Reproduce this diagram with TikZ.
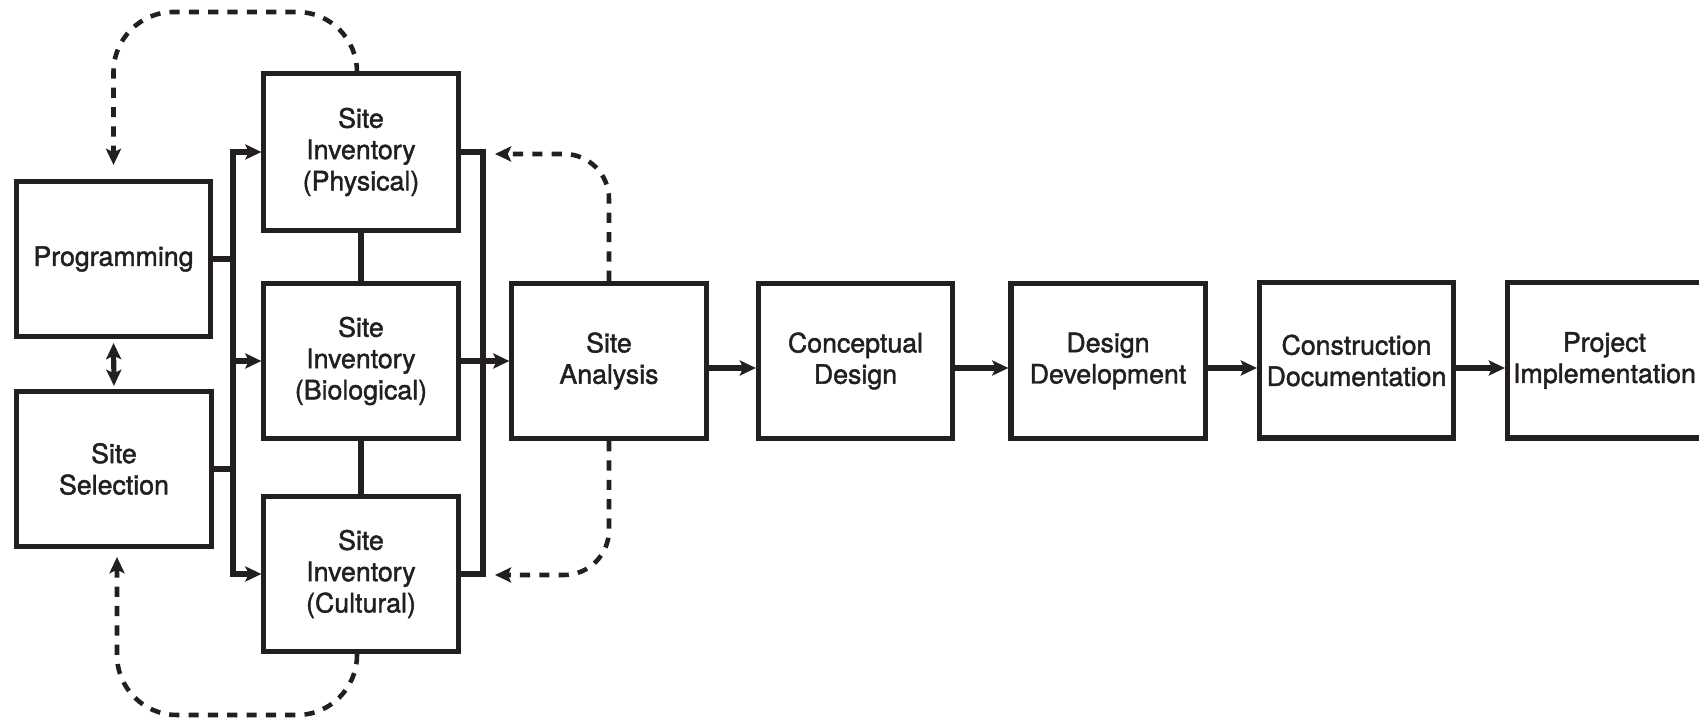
\documentclass[tikz,border=0pt]{standalone}
\usepackage{fontspec}
\setmainfont{TeX Gyre Heros}
\newfontfamily\heavyfont[FakeBold=1.6]{TeX Gyre Heros}
\usetikzlibrary{arrows.meta}
\definecolor{ink}{HTML}{231F20}
\begin{document}
\begin{tikzpicture}[x=0.01cm,y=-0.01cm,
  box/.style={draw=ink, line width=1.45pt, minimum width=1.94cm, minimum height=1.55cm,
    inner sep=0pt, align=center, font=\heavyfont\fontsize{7.6}{8.9}\selectfont, text=ink},
  conn/.style={draw=ink, line width=1.45pt},
  tip/.style={-{Stealth[length=4.6pt,width=4.3pt,inset=1pt]}},
  arr/.style={conn, tip},
  dsh/.style={draw=ink, line width=1.3pt, dash pattern=on 2.9pt off 2.6pt, tip},
]
\useasboundingbox (0,0) rectangle (1699,719);
\clip (0,0) rectangle (1699,719);

% boxes
\node[box] (prog) at (113.5,259) {Programming};
\node[box] (sel)  at (114,469) {Site\\Selection};
\node[box, minimum height=1.57cm] (phys) at (361,152) {Site\\Inventory\\(Physical)};
\node[box] (bio)  at (361,361) {Site\\Inventory\\(Biological)};
\node[box] (cult) at (361,574) {Site\\Inventory\\(Cultural)};
\node[box] (ana)  at (609,361) {Site\\Analysis};
\node[box] (conc) at (855.5,361) {Conceptual\\Design};
\node[box] (dev)  at (1108,361) {Design\\Development};
\node[box] (cons) at (1356.5,360.5) {Construction\\Documentation};
\node[box] (proj) at (1604.5,360.5) {Project\\Implementation};

% buses
\coordinate (bl) at (233,0);
\coordinate (br) at (483,0);
\draw[conn] (prog.east) -- (prog.east -| bl);
\draw[conn] (sel.east) -- (sel.east -| bl);
\draw[arr] (prog.east -| bl) |- (phys.west);
\draw[arr] (prog.east -| bl) |- (cult.west);
\draw[arr] (bio.west -| bl) -- (bio.west);

\draw[conn] (phys.south) -- (bio.north);
\draw[conn] (bio.south) -- (cult.north);

\draw[conn] (phys.east) -| (br |- cult.east) -- (cult.east);
\draw[arr] (bio.east) -- (ana.west);

% main flow (arrows slightly below the box centres)
\coordinate (flow) at (0,368);
\draw[arr] (ana.east |- flow) -- (conc.west |- flow);
\draw[arr] (conc.east |- flow) -- (dev.west |- flow);
\draw[arr] (dev.east |- flow) -- (cons.west |- flow);
\draw[arr] (cons.east |- flow) -- (proj.west |- flow);

% programming <-> selection
\draw[conn, {Stealth[length=4.6pt,width=4.3pt,inset=1pt]}-{Stealth[length=4.6pt,width=4.3pt,inset=1pt]}]
  ([yshift=-0.04cm]prog.south) -- ([yshift=0.03cm]sel.north);

% dashed feedback loops
\coordinate (physTop) at ([xshift=-0.04cm]phys.north);
\coordinate (cultBot) at ([xshift=-0.04cm]cult.south);
\coordinate (progIn) at ([yshift=0.14cm]prog.north);
\coordinate (selIn) at ([xshift=0.03cm,yshift=-0.08cm]sel.south);
\coordinate (fbTop) at (495,154);
\coordinate (fbBot) at (495,575);

\draw[dsh, rounded corners=0.6cm] (physTop) -- (physTop |- 0,12) -- (progIn |- 0,12) -- (progIn);
\draw[dsh, rounded corners=0.6cm] (cultBot) -- (cultBot |- 0,715) -- (selIn |- 0,715) -- (selIn);
\draw[dsh, rounded corners=0.45cm] (ana.north) -- (ana.north |- fbTop) -- (fbTop);
\draw[dsh, rounded corners=0.45cm] (ana.south) -- (ana.south |- fbBot) -- (fbBot);
\end{tikzpicture}
\end{document}
